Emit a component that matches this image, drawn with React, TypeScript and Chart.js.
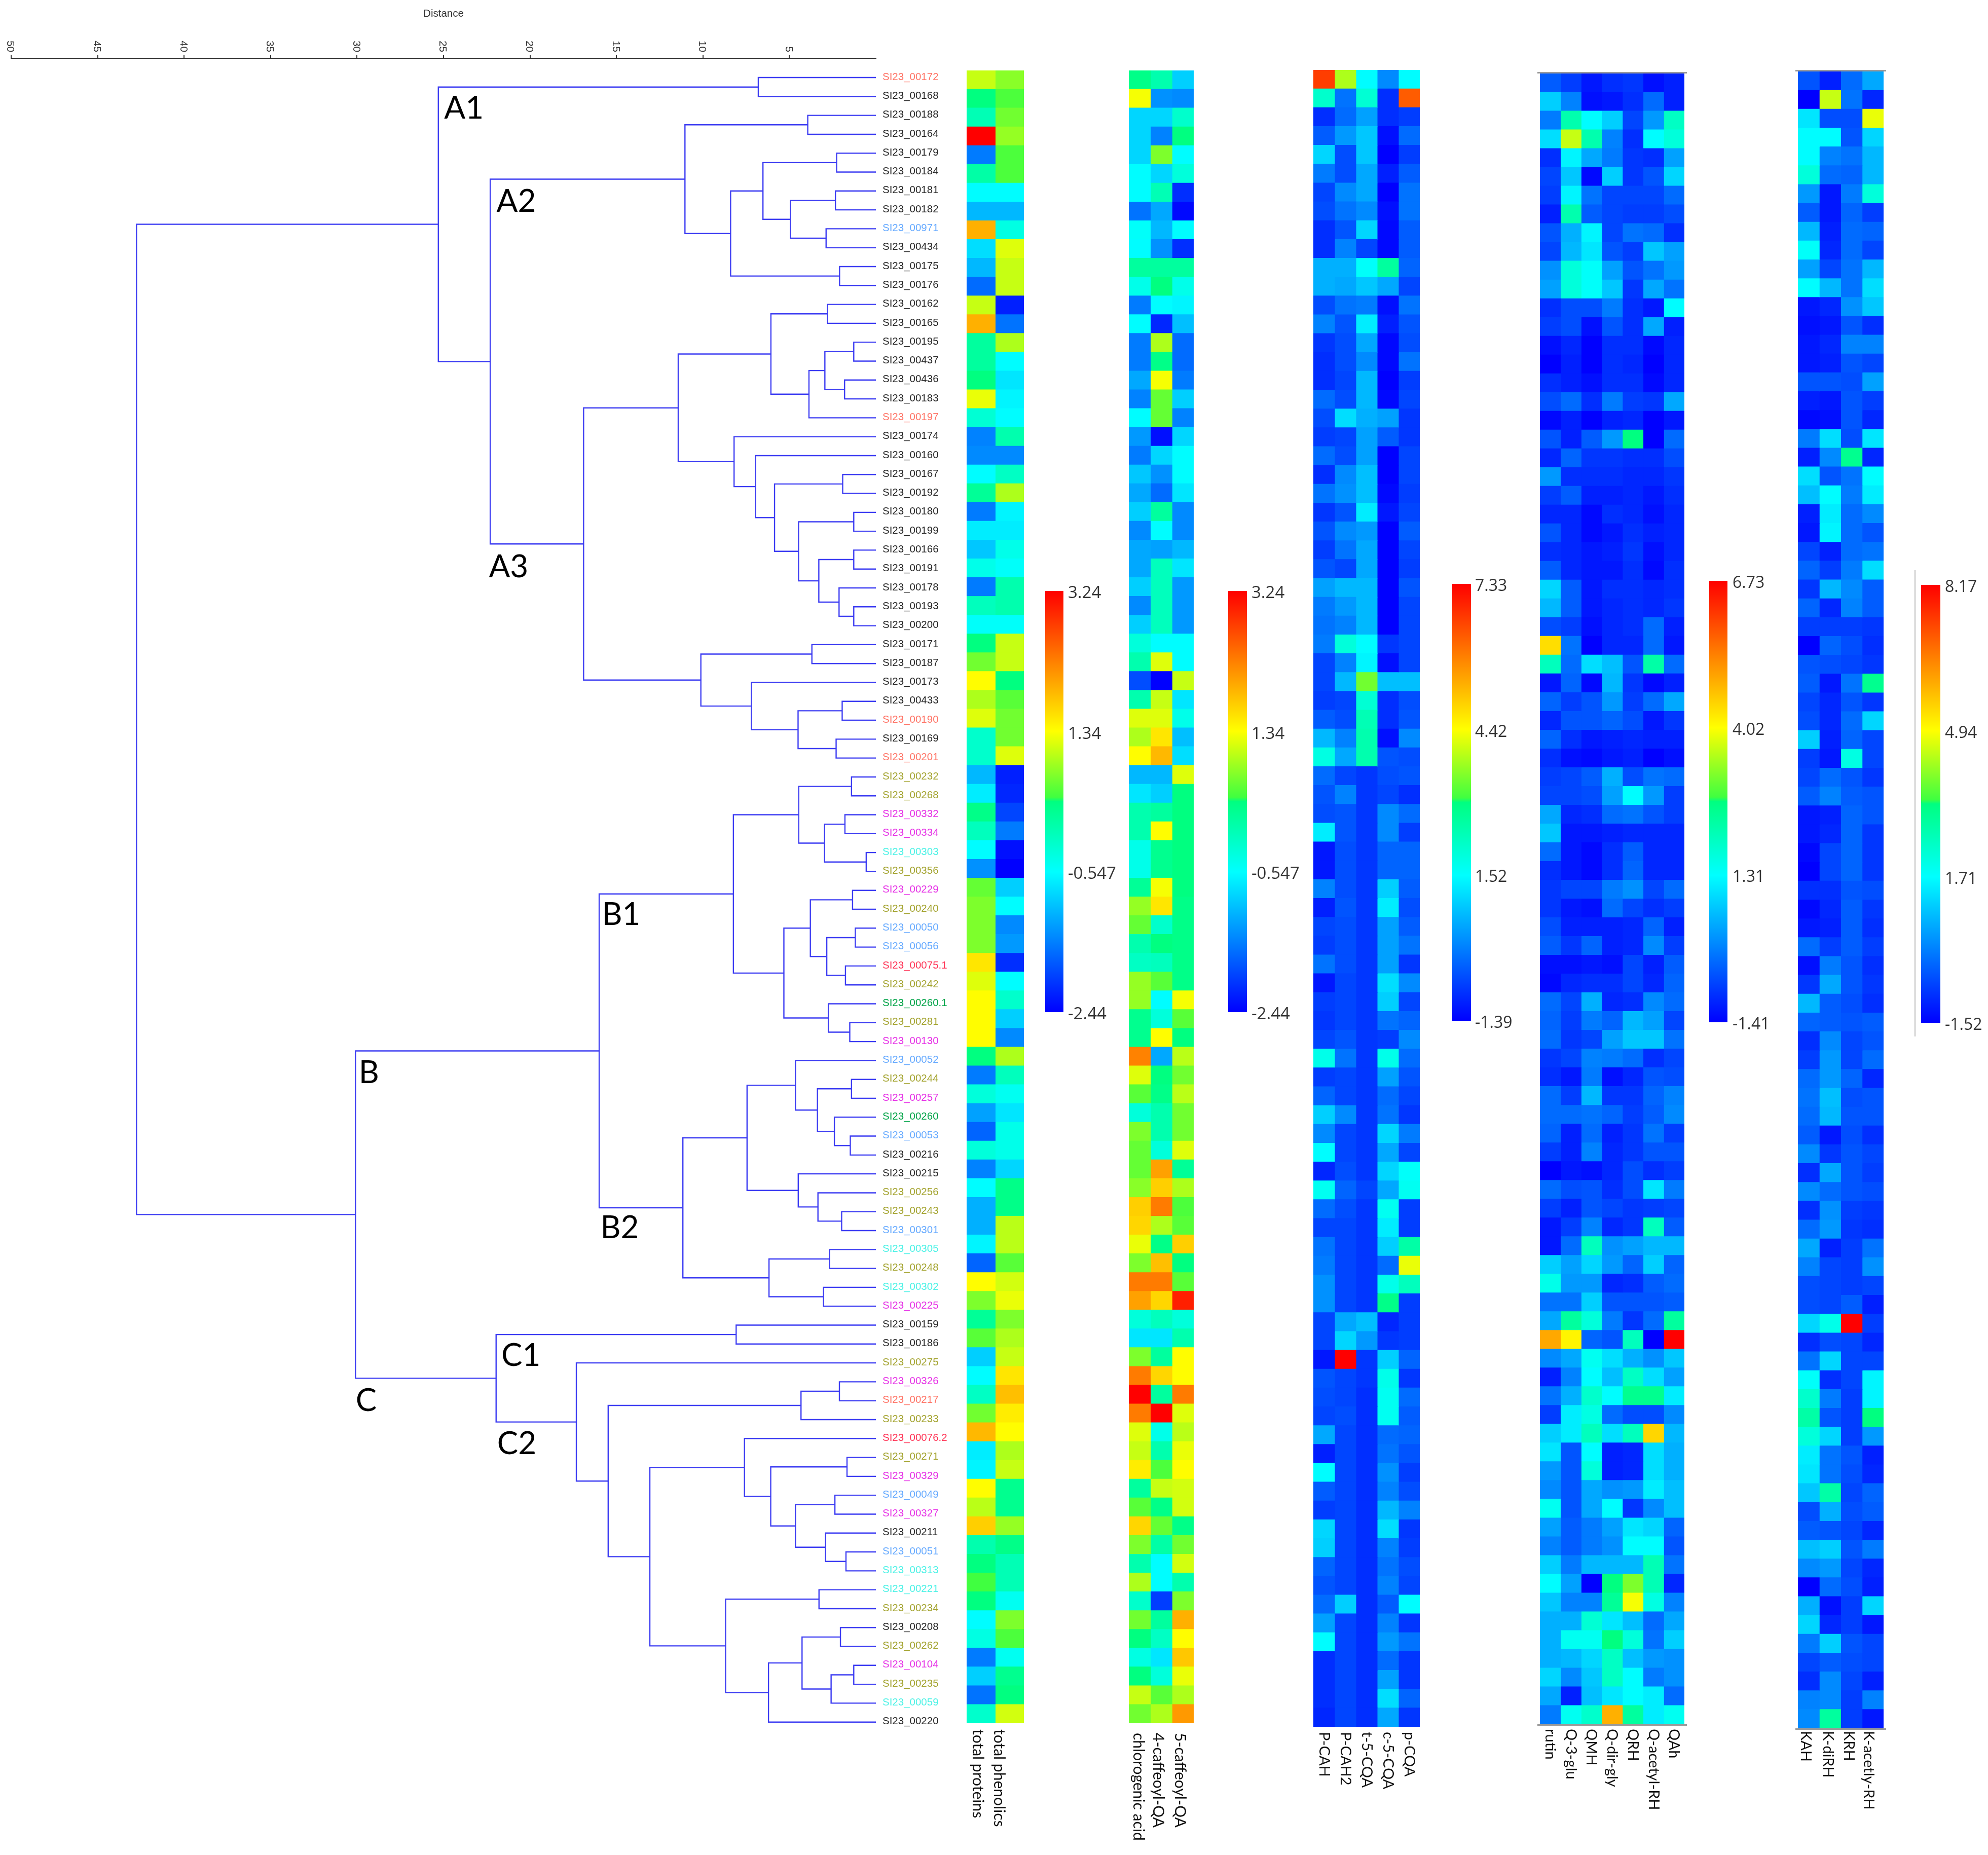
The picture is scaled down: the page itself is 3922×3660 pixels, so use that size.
import React, { useEffect, useRef } from "react";
import Chart from "chart.js/auto";

/* ---------- data ---------- */
const distanceTicks = [50, 45, 40, 35, 30, 25, 20, 15, 10, 5];

const leafNames = [
  "SI23_00172","SI23_00168","SI23_00188","SI23_00164","SI23_00179","SI23_00184","SI23_00181","SI23_00182","SI23_00971","SI23_00434","SI23_00175","SI23_00176",
  "SI23_00162","SI23_00165","SI23_00195","SI23_00437","SI23_00436","SI23_00183","SI23_00197","SI23_00174","SI23_00160","SI23_00167","SI23_00192","SI23_00180",
  "SI23_00199","SI23_00166","SI23_00191","SI23_00178","SI23_00193","SI23_00200","SI23_00171","SI23_00187","SI23_00173","SI23_00433","SI23_00190","SI23_00169",
  "SI23_00201","SI23_00232","SI23_00268","SI23_00332","SI23_00334","SI23_00303","SI23_00356","SI23_00229","SI23_00240","SI23_00050","SI23_00056","SI23_00075.1",
  "SI23_00242","SI23_00260.1","SI23_00281","SI23_00130","SI23_00052","SI23_00244","SI23_00257","SI23_00260","SI23_00053","SI23_00216","SI23_00215","SI23_00256",
  "SI23_00243","SI23_00301","SI23_00305","SI23_00248","SI23_00302","SI23_00225","SI23_00159","SI23_00186","SI23_00275","SI23_00326","SI23_00217","SI23_00233",
  "SI23_00076.2","SI23_00271","SI23_00329","SI23_00049","SI23_00327","SI23_00211","SI23_00051","SI23_00313","SI23_00221","SI23_00234","SI23_00208","SI23_00262",
  "SI23_00104","SI23_00235","SI23_00059","SI23_00220",
];

const leafGroups = [
  "s","k","k","k","k","k","k","k","b","k","k","k",
  "k","k","k","k","k","k","s","k","k","k","k","k",
  "k","k","k","k","k","k","k","k","k","k","s","k",
  "s","o","o","m","m","c","o","m","o","b","b","r",
  "o","g","o","m","b","o","m","g","b","k","k","o",
  "o","b","c","o","c","m","k","k","o","m","s","o",
  "r","o","m","b","m","k","b","c","c","o","k","o",
  "m","o","c","k",
];

const groupColors: Record<string, string> = {
  k: "#262626", s: "#ff7466", b: "#66aaff", o: "#a3a32e", m: "#e632e6", c: "#4df2e6", r: "#ff3355", g: "#00a347",
};

/* each merge: [distance, upper child, lower child]; a number child is a leaf row */
type Node = number | [number, Node, Node];
const dendrogram: Node = [42.75,
  [25.3,
    [6.8, 0, 1],
    [22.3,
      [11.04,
        [3.94, 2, 3],
        [8.4,
          [6.53,
            [2.27, 4, 5],
            [4.94, [2.34, 6, 7], [2.88, 8, 9]]],
          [2.1, 10, 11]]],
      [16.9,
        [11.43,
          [6.07,
            [2.8, 12, 13],
            [3.87,
              [2.95, [1.28, 14, 15], [1.81, 16, 17]],
              18]],
          [8.2, 19,
            [6.96, 20,
              [5.86,
                [1.92, 21, 22],
                [4.47,
                  [1.28, 23, 24],
                  [3.3,
                    [1.28, 25, 26],
                    [2.13, 27, [1.28, 28, 29]]]]]]]],
        [10.12,
          [3.7, 30, 31],
          [7.2, 32,
            [4.5, [1.95, 33, 34], [2.3, 35, 36]]]]]]],
  [30.09,
    [16.0,
      [8.24,
        [4.46,
          [1.41, 37, 38],
          [2.97, [1.79, 39, 40], [0.56, 41, 42]]],
        [5.32,
          [3.79,
            [1.35, 43, 44],
            [2.84, [1.19, 45, 46], [1.76, 47, 48]]],
          [2.75, 49, [1.51, 50, 51]]]],
      [11.16,
        [7.45,
          [4.65, 52,
            [3.38,
              [1.41, 53, 54],
              [2.4, 55, [1.48, 56, 57]]]],
          [4.49, 58,
            [3.35, 59, [1.98, 60, 61]]]],
        [6.18,
          [2.68, 62, 63],
          [3.03, 64, 65]]]],
    [21.96,
      [8.08, 66, 67],
      [17.32, 68,
        [15.48,
          [4.33, [2.11, 69, 70], 71],
          [13.07,
            [7.6, 72,
              [6.08,
                [1.67, 73, 74],
                [4.65,
                  [2.37, 75, 76],
                  [2.91, 77, [1.73, 78, 79]]]]],
            [8.69,
              [3.29, 80, 81],
              [6.21,
                [4.27,
                  [2.05, 82, 83],
                  [2.59, [1.28, 84, 85], 86]],
                87]]]]]]]];

const cladeLabels: [string, number, number][] = [
  ["A1", 24.96, 1.64], ["A2", 21.94, 6.57], ["A3", 22.38, 25.9],
  ["B", 29.9, 52.67], ["B1", 15.84, 44.29], ["B2", 15.93, 60.86],
  ["C", 30.08, 70.0], ["C1", 21.66, 67.62], ["C2", 21.9, 72.3],
];

/* cell values below are read as a position (0-100) along each panel's colour bar */
const totalsColumns = ["total proteins", "total phenolics"];
const totalsRows = [
  [62,57],[50,52],[43,55],[100,58],[16,52],[45,52],[33,33],[24,24],[77,37],[29,64],[24,62],[14,62],
  [62,4],[77,15],[46,60],[46,33],[50,30],[65,32],[39,33],[17,44],[18,18],[33,41],[47,60],[16,32],
  [31,31],[26,36],[36,34],[16,44],[42,44],[34,34],[50,62],[55,62],[67,50],[60,53],[64,55],[40,55],
  [40,64],[24,4],[31,5],[49,9],[42,16],[33,2],[19,0],[54,27],[56,33],[56,18],[56,20],[70,6],
  [64,33],[67,40],[67,27],[67,18],[50,60],[16,42],[38,35],[21,30],[13,36],[38,36],[17,28],[33,49],
  [23,49],[23,61],[32,61],[13,53],[67,63],[56,65],[47,56],[53,60],[27,62],[33,70],[41,75],[55,69],
  [76,67],[31,60],[32,62],[67,48],[61,48],[73,58],[44,49],[50,43],[51,43],[50,35],[33,56],[37,52],
  [16,35],[27,48],[15,50],[40,63],
];

const caffeoylColumns = ["chlorogenic acid", "4-caffeoyl-QA", "5-caffeoyl-QA"];
const caffeoylRows = [
  [49,44,27],[66,19,18],[28,28,40],[28,17,50],[28,56,33],[33,28,38],[33,43,6],[15,22,1],[34,24,33],[33,19,6],[46,46,46],[36,50,36],
  [16,33,32],[33,5,25],[16,60,14],[16,49,14],[22,66,16],[17,54,27],[33,54,17],[20,2,28],[16,28,33],[26,19,33],[22,14,30],[27,46,18],
  [18,33,18],[22,21,24],[22,42,30],[27,42,20],[18,42,20],[27,42,20],[38,33,33],[44,64,33],[10,0,62],[44,62,30],[64,64,36],[60,70,25],
  [67,76,29],[24,24,64],[30,27,50],[44,46,50],[44,67,50],[36,48,50],[36,48,50],[47,66,50],[58,70,49],[54,40,49],[44,50,49],[41,42,49],
  [58,53,49],[58,33,66],[48,38,53],[48,67,50],[83,22,61],[64,50,55],[53,49,61],[38,44,55],[56,44,55],[54,38,64],[54,79,47],[57,73,60],
  [73,84,52],[72,60,53],[65,49,73],[56,75,50],[84,84,53],[79,72,96],[38,42,38],[30,30,44],[56,46,67],[84,72,67],[100,46,84],[84,100,64],
  [64,36,61],[62,44,65],[69,52,67],[46,62,63],[53,49,63],[72,54,49],[56,45,55],[44,33,63],[60,33,44],[40,8,56],[55,46,77],[50,41,67],
  [37,30,74],[50,38,65],[62,53,60],[55,60,80],
];

const hcaColumns = ["P-CAH", "P-CAH2", "t-5-CQA", "c-5-CQA", "p-CQA"];
const hcaRows = [
  [92,60,33,18,33],[40,15,39,6,88],[6,14,21,6,8],[12,20,26,2,14],[28,10,26,0,8],[16,10,22,4,12],[9,18,22,0,15],[10,15,18,2,15],
  [6,11,28,1,12],[6,17,9,1,12],[23,23,34,46,13],[23,22,26,22,9],[10,15,16,2,15],[17,11,31,4,11],[7,10,22,1,10],[6,10,18,1,15],
  [6,9,24,0,8],[14,10,24,1,9],[10,29,23,21,7],[8,9,21,12,7],[14,10,21,0,9],[6,18,25,0,9],[15,19,25,1,8],[7,11,31,3,9],
  [11,18,20,0,12],[8,15,22,0,9],[11,9,22,0,8],[21,24,24,0,11],[16,20,24,0,9],[15,17,24,0,9],[16,38,33,7,9],[9,17,32,2,9],
  [9,24,55,25,25],[8,9,39,6,10],[12,10,43,6,11],[24,17,44,2,18],[37,22,44,11,10],[14,9,7,10,11],[11,17,7,9,6],[10,11,7,18,14],
  [31,11,7,18,8],[3,10,7,13,13],[3,10,7,13,13],[17,10,7,27,12],[4,11,7,31,10],[9,10,7,21,12],[8,10,7,21,15],[15,10,7,21,7],
  [3,9,7,29,18],[8,9,7,27,9],[7,9,7,15,13],[9,11,7,8,18],[36,15,7,36,14],[8,9,7,21,11],[13,9,7,14,9],[27,18,7,15,7],
  [18,9,7,28,16],[33,9,7,22,9],[5,10,7,28,34],[35,13,9,22,35],[14,10,7,35,8],[9,9,7,31,8],[15,9,7,27,45],[16,9,7,14,65],
  [19,9,7,36,42],[19,9,7,49,8],[9,22,25,5,8],[9,28,20,7,8],[3,100,7,27,13],[11,9,7,36,7],[10,9,6,35,14],[9,10,6,35,12],
  [22,9,6,14,13],[4,9,6,15,11],[33,9,6,19,8],[12,9,6,17,10],[8,9,6,24,17],[28,9,6,29,7],[27,9,6,17,8],[13,9,6,15,10],
  [11,9,6,17,9],[14,27,6,12,33],[21,9,6,17,7],[33,9,6,20,15],[6,9,6,14,7],[6,9,6,21,7],[6,9,6,29,13],[5,9,6,22,7],
];

const quercetinColumns = ["rutin", "Q-3-glu", "QMH", "Q-dir-gly", "QRH", "Q-acetyl-RH", "QAh"];
const quercetinRows = [
  [12,8,3,6,7,2,4],[27,17,2,3,6,14,4],[16,44,33,27,9,20,41],[29,62,44,17,6,33,38],[6,32,22,16,7,6,21],[9,26,1,27,7,11,28],
  [8,32,15,9,9,9,14],[4,44,12,9,8,8,10],[11,23,32,9,15,14,6],[9,24,30,11,8,26,21],[19,38,34,21,11,15,20],[21,38,34,26,7,22,15],
  [6,10,10,16,6,3,33],[8,10,2,11,6,22,4],[2,5,0,6,6,1,5],[0,4,0,6,5,0,5],[6,4,2,6,6,1,5],[10,14,6,16,8,7,22],
  [1,4,0,4,5,0,3],[11,4,12,20,50,0,14],[5,13,7,7,6,6,10],[20,6,6,6,5,5,7],[8,12,4,4,5,3,6],[5,5,1,6,5,2,5],
  [11,5,1,3,6,4,5],[6,5,3,4,7,2,5],[12,5,3,3,6,1,6],[28,12,3,6,6,5,6],[24,12,3,5,6,5,7],[10,8,2,5,6,14,4],
  [71,15,0,5,5,14,3],[42,14,29,25,11,45,14],[3,13,1,24,7,1,4],[13,8,11,20,8,14,22],[5,11,11,13,10,3,7],[13,6,3,4,5,4,4],
  [6,2,1,3,4,0,2],[8,9,12,23,10,15,14],[9,9,10,21,33,20,8],[22,5,6,14,15,11,8],[26,3,3,4,5,5,5],[14,3,1,6,12,5,5],
  [6,3,1,6,13,5,5],[7,9,9,16,19,9,14],[7,3,2,14,9,6,8],[10,4,4,4,5,13,4],[12,7,13,4,5,18,8],[2,2,3,2,9,4,12],
  [1,5,6,6,9,5,13],[14,9,23,5,6,18,14],[13,8,16,13,24,21,9],[14,7,9,21,26,26,15],[7,9,17,16,14,6,9],[6,3,16,2,5,11,10],
  [14,8,24,7,7,13,17],[14,14,15,13,8,12,18],[13,4,14,4,7,15,8],[8,4,17,5,7,11,11],[0,3,2,5,10,6,8],[14,10,11,6,10,30,16],
  [8,4,11,9,7,8,9],[3,8,17,5,7,42,12],[3,14,42,19,21,24,24],[27,21,28,20,13,27,13],[36,20,20,5,6,12,14],[15,15,27,11,11,11,12],
  [22,46,38,16,7,14,46],[78,68,13,11,42,0,100],[18,22,35,29,23,19,26],[4,17,33,25,41,29,21],[15,23,40,33,48,48,31],[8,31,37,14,10,10,18],
  [27,31,42,29,42,72,24],[30,11,33,4,5,29,23],[20,11,38,4,5,29,23],[18,11,22,19,20,31,25],[35,11,22,33,7,18,25],[21,12,16,21,30,28,13],
  [17,12,16,19,33,33,11],[27,16,24,24,24,43,15],[33,21,0,50,56,43,5],[26,17,17,47,66,37,17],[23,23,39,30,25,14,22],[23,35,35,50,38,15,27],
  [23,24,28,41,25,20,19],[28,18,26,41,33,16,19],[22,4,25,30,33,31,14],[16,35,40,77,46,31,35],
];

const kaempferolColumns = ["KAH", "K-diRH", "KRH", "K-acetly-RH"];
const kaempferolRows = [
  [11,4,14,22],[0,62,15,5],[30,10,10,65],[33,33,11,28],[33,17,15,24],[38,14,13,24],[20,3,16,38],[12,3,13,8],
  [24,4,14,13],[34,5,14,9],[21,9,15,24],[33,24,15,29],[3,5,19,26],[2,3,11,6],[3,5,17,17],[3,4,11,9],
  [11,11,10,21],[4,3,11,8],[1,2,11,5],[16,29,10,30],[4,18,48,5],[29,11,15,33],[25,33,16,31],[4,31,14,18],
  [3,32,14,11],[9,4,14,15],[13,8,16,29],[7,24,18,12],[13,5,17,12],[8,8,8,7],[0,13,10,6],[11,10,9,7],
  [12,3,15,48],[9,5,11,7],[10,5,14,28],[27,4,13,9],[8,3,37,9],[9,14,11,7],[12,17,12,11],[3,4,13,11],
  [3,5,13,7],[1,9,13,7],[0,9,13,7],[6,6,11,10],[1,5,12,7],[3,4,12,6],[14,8,12,8],[2,16,11,6],
  [7,22,11,7],[24,12,10,6],[13,12,11,12],[6,18,9,11],[8,20,9,14],[14,20,13,5],[15,25,10,11],[14,24,11,11],
  [12,3,10,6],[18,7,11,9],[6,22,11,8],[18,14,11,10],[6,19,8,7],[14,20,7,6],[22,4,8,15],[17,9,8,19],
  [10,9,8,9],[10,9,12,4],[28,36,100,8],[6,10,9,5],[15,28,9,9],[34,6,9,32],[40,16,8,32],[45,11,8,50],
  [38,28,8,20],[31,15,11,4],[30,15,10,5],[26,45,9,13],[10,23,10,12],[12,11,9,5],[25,27,11,16],[18,20,9,5],
  [0,14,10,4],[23,2,8,28],[28,5,8,3],[16,27,11,9],[9,12,10,9],[6,18,9,4],[17,18,8,17],[18,46,8,3],
];

const scaleTicksA = [3.24, 1.34, -0.547, -2.44];
const scaleTicksB = [3.24, 1.34, -0.547, -2.44];
const scaleTicksC = [7.33, 4.42, 1.52, -1.39];
const scaleTicksD = [6.73, 4.02, 1.31, -1.41];
const scaleTicksE = [8.17, 4.94, 1.71, -1.52];

/* ---------- colour scale ---------- */
const colorStops: [number, number[]][] = [
  [0, [0, 0, 255]], [33.3, [0, 255, 255]], [50, [0, 255, 128]], [51, [64, 255, 64]], [66.7, [255, 255, 0]], [100, [255, 0, 0]],
];
function heatColor(p: number) {
  for (let i = 1; i < colorStops.length; i++) {
    const [p1, c1] = colorStops[i];
    const [p0, c0] = colorStops[i - 1];
    if (p <= p1) {
      const t = (p - p0) / (p1 - p0);
      return `rgb(${c0.map((v, k) => Math.round(v + (c1[k] - v) * t)).join(",")})`;
    }
  }
  return "rgb(255,0,0)";
}

/* ---------- shared options ---------- */
const baseOptions = {
  responsive: false,
  animation: false as const,
  devicePixelRatio: 1,
  events: [] as string[],
};
const quietPlugins = { legend: { display: false }, tooltip: { enabled: false } };

function ChartCanvas({ left, top, width, height, build }: { left: number; top: number; width: number; height: number; build: () => any }) {
  const ref = useRef<HTMLCanvasElement>(null);
  useEffect(() => {
    const chart = new Chart(ref.current as HTMLCanvasElement, build());
    return () => chart.destroy();
  }, []);
  return <canvas ref={ref} width={width} height={height} style={{ position: "absolute", left, top, width, height }} />;
}

/* ---------- dendrogram ---------- */
const DENDRO = { width: 1900, height: 3500, axisTop: 115, xLeft: 22, xRight: 1728, rowTop: -1.02, rowBottom: 88 };

function buildBranches() {
  const branches: { x: number; y: number }[][] = [];
  const walk = (n: Node): { d: number; y: number } => {
    if (typeof n === "number") return { d: 0, y: n };
    const [dist, a, b] = n;
    const p = walk(a);
    const q = walk(b);
    branches.push([
      { x: p.d, y: p.y },
      { x: dist, y: p.y },
      { x: dist, y: q.y },
      { x: q.d, y: q.y },
    ]);
    return { d: dist, y: (p.y + q.y) / 2 };
  };
  walk(dendrogram);
  return branches;
}

function dendroConfig() {
  const axisLabels = {
    id: "axisLabels",
    afterDraw(chart: any) {
      const { ctx, scales } = chart;
      ctx.save();
      ctx.fillStyle = "#333";
      ctx.font = '20.5px "Liberation Sans"';
      ctx.textBaseline = "middle";
      distanceTicks.forEach((t) => {
        ctx.save();
        ctx.translate(scales.x.getPixelForValue(t) - 2, DENDRO.axisTop - 12);
        ctx.rotate(Math.PI / 2);
        ctx.textAlign = "right";
        ctx.fillText(String(t), 0, 0);
        ctx.restore();
      });
      ctx.fillStyle = "#000";
      ctx.font = '62px Lato';
      ctx.textAlign = "left";
      cladeLabels.forEach(([name, d, row]) => {
        ctx.fillText(name, scales.x.getPixelForValue(d), scales.y.getPixelForValue(row));
      });
      ctx.restore();
    },
  };
  return {
    type: "scatter",
    data: {
      datasets: buildBranches().map((data) => ({
        data,
        showLine: true,
        pointRadius: 0,
        borderColor: "#3c3cf2",
        borderWidth: 2.4,
        tension: 0,
        clip: false,
      })),
    },
    plugins: [axisLabels],
    options: {
      ...baseOptions,
      layout: { padding: { left: DENDRO.xLeft, right: 0, top: 0, bottom: 65 } },
      plugins: quietPlugins,
      scales: {
        x: {
          type: "linear",
          position: "top",
          reverse: true,
          min: 0,
          max: 50,
          afterBuildTicks: (s: any) => { s.ticks = distanceTicks.map((value) => ({ value })); },
          afterFit: (s: any) => { s.height = DENDRO.axisTop; },
          ticks: { display: false },
          grid: { drawOnChartArea: false, drawTicks: true, tickLength: 7, color: "#333", lineWidth: 2 },
          border: { display: true, color: "#333", width: 2 },
          title: { display: true, text: "Distance", color: "#333", font: { family: "Liberation Sans", size: 20.5 }, padding: { top: 15, bottom: 0 } },
        },
        y: {
          type: "linear",
          position: "right",
          reverse: true,
          min: DENDRO.rowTop,
          max: DENDRO.rowBottom,
          afterBuildTicks: (s: any) => { s.ticks = leafNames.map((_, value) => ({ value })); },
          afterFit: (s: any) => { s.width = DENDRO.width - DENDRO.xRight; },
          grid: { display: false, drawTicks: false },
          border: { display: false },
          ticks: {
            autoSkip: false,
            padding: 13,
            labelOffset: -1,
            font: { family: "Liberation Sans", size: 20.5 },
            color: (ctx: any) => groupColors[leafGroups[ctx.tick.value]] || "#262626",
            callback: (v: number) => leafNames[v],
          },
        },
      },
    },
  };
}

/* ---------- heat panels ---------- */
function panelConfig(p: any, m: number, canvasHeight: number) {
  const columnLabels = {
    id: "columnLabels",
    afterDraw(chart: any) {
      const { ctx, scales } = chart;
      ctx.save();
      ctx.fillStyle = "#111";
      ctx.font = `${p.fontSize}px Lato`;
      ctx.textBaseline = "middle";
      ctx.textAlign = "left";
      p.columns.forEach((name: string, i: number) => {
        ctx.save();
        ctx.translate(scales.x.getPixelForValue(i) + (p.shifts ? p.shifts[i] : 0), p.labelTop - p.top + m);
        ctx.rotate(Math.PI / 2);
        ctx.fillText(name, 0, 0);
        ctx.restore();
      });
      if (p.rules) {
        ctx.fillStyle = "#9a9a9a";
        const { left, right, top, bottom } = chart.chartArea;
        ctx.fillRect(left - 5, top - 3, right - left + 10, 3);
        ctx.fillRect(left - 5, bottom, right - left + 10, 3);
      }
      ctx.restore();
    },
  };
  return {
    type: "bar",
    data: {
      labels: p.columns,
      datasets: p.columns.map((name: string, c: number) => ({
        label: name,
        data: p.rows.map((_: number[], r: number) => ({ x: name, y: [r, r + 1] })),
        backgroundColor: p.rows.map((row: number[]) => heatColor(row[c])),
        borderWidth: 0,
        inflateAmount: 0.5,
        grouped: false,
        barPercentage: 1,
        categoryPercentage: 1,
      })),
    },
    plugins: [columnLabels],
    options: {
      ...baseOptions,
      layout: { padding: { left: m, right: m, top: m, bottom: canvasHeight - m - (p.bottom - p.top) } },
      plugins: quietPlugins,
      scales: {
        x: { type: "category", display: false, offset: true },
        y: { type: "linear", display: false, reverse: true, min: 0, max: p.rows.length },
      },
    },
  };
}

function HeatPanel({ panel }: { panel: any }) {
  const m = 10;
  const top = panel.top - m;
  const height = 3660 - top;
  return (
    <ChartCanvas
      left={panel.left - m}
      top={top}
      width={panel.right - panel.left + 2 * m}
      height={height}
      build={() => panelConfig(panel, m, height)}
    />
  );
}

/* ---------- colour bars ---------- */
function colorBarConfig(ticks: number[], fontSize: number, labelGap: number) {
  const lo = ticks[ticks.length - 1];
  const hi = ticks[0];
  return {
    type: "bar",
    data: {
      labels: [""],
      datasets: [{
        data: [[lo, hi]],
        borderWidth: 0,
        barPercentage: 1,
        categoryPercentage: 1,
        backgroundColor: (ctx: any) => {
          const { chartArea, ctx: c } = ctx.chart;
          if (!chartArea) return "#00f";
          const g = c.createLinearGradient(0, chartArea.bottom, 0, chartArea.top);
          colorStops.forEach(([p, rgb]) => g.addColorStop(p / 100, `rgb(${rgb.join(",")})`));
          return g;
        },
      }],
    },
    options: {
      ...baseOptions,
      layout: { padding: { left: 0, right: 0, top: 30, bottom: 30 } },
      plugins: quietPlugins,
      scales: {
        x: { type: "category", display: false, offset: true },
        y: {
          type: "linear",
          position: "right",
          min: lo,
          max: hi,
          afterBuildTicks: (s: any) => { s.ticks = ticks.map((value) => ({ value })); },
          afterFit: (s: any) => { s.width = 130; },
          grid: { display: false, drawTicks: false },
          border: { display: false },
          ticks: {
            padding: labelGap,
            labelOffset: 5,
            color: "#333",
            font: { family: "Open Sans", size: fontSize },
            callback: (v: number) => String(v),
          },
        },
      },
    },
  };
}

function ColorBar({ left, right, top, bottom, ticks, fontSize, labelGap }: any) {
  return (
    <ChartCanvas
      left={left}
      top={top - 30}
      width={right - left + 130}
      height={bottom - top + 60}
      build={() => colorBarConfig(ticks, fontSize, labelGap)}
    />
  );
}

/* ---------- page ---------- */
const panels = [
  { columns: totalsColumns, rows: totalsRows, left: 1907, right: 2020, top: 139, bottom: 3400, labelTop: 3412, fontSize: 30, shifts: [-7, -21] },
  { columns: caffeoylColumns, rows: caffeoylRows, left: 2227, right: 2355, top: 139, bottom: 3400, labelTop: 3419, fontSize: 30, shifts: [-3, -6, -6] },
  { columns: hcaColumns, rows: hcaRows, left: 2591, right: 2801, top: 138, bottom: 3407, labelTop: 3417, fontSize: 29 },
  { columns: quercetinColumns, rows: quercetinRows, left: 3038, right: 3323, top: 145, bottom: 3402, labelTop: 3411, fontSize: 29, rules: true },
  { columns: kaempferolColumns, rows: kaempferolRows, left: 3547, right: 3716, top: 141, bottom: 3410, labelTop: 3415, fontSize: 29, rules: true, shifts: [-6, -4, -5, -9] },
];

const colorBars = [
  { left: 2062, right: 2098, top: 1166, bottom: 1997, ticks: scaleTicksA, fontSize: 33, labelGap: 9 },
  { left: 2423, right: 2460, top: 1166, bottom: 1997, ticks: scaleTicksB, fontSize: 33, labelGap: 9 },
  { left: 2865, right: 2902, top: 1152, bottom: 2014, ticks: scaleTicksC, fontSize: 32, labelGap: 8 },
  { left: 3372, right: 3408, top: 1146, bottom: 2017, ticks: scaleTicksD, fontSize: 32, labelGap: 10 },
  { left: 3790, right: 3828, top: 1154, bottom: 2018, ticks: scaleTicksE, fontSize: 32, labelGap: 9 },
];

export default function App() {
  return (
    <div style={{ position: "absolute", left: 0, top: 0, width: 3922, height: 3660, overflow: "hidden", background: "#fff" }}>
      <ChartCanvas left={0} top={0} width={DENDRO.width} height={DENDRO.height} build={dendroConfig} />
      {panels.map((p) => <HeatPanel key={p.columns[0]} panel={p} />)}
      {colorBars.map((b) => <ColorBar key={b.left} {...b} />)}
      <div style={{ position: "absolute", left: 3777, top: 1125, width: 2, height: 920, background: "#bdbdbd" }} />
    </div>
  );
}
